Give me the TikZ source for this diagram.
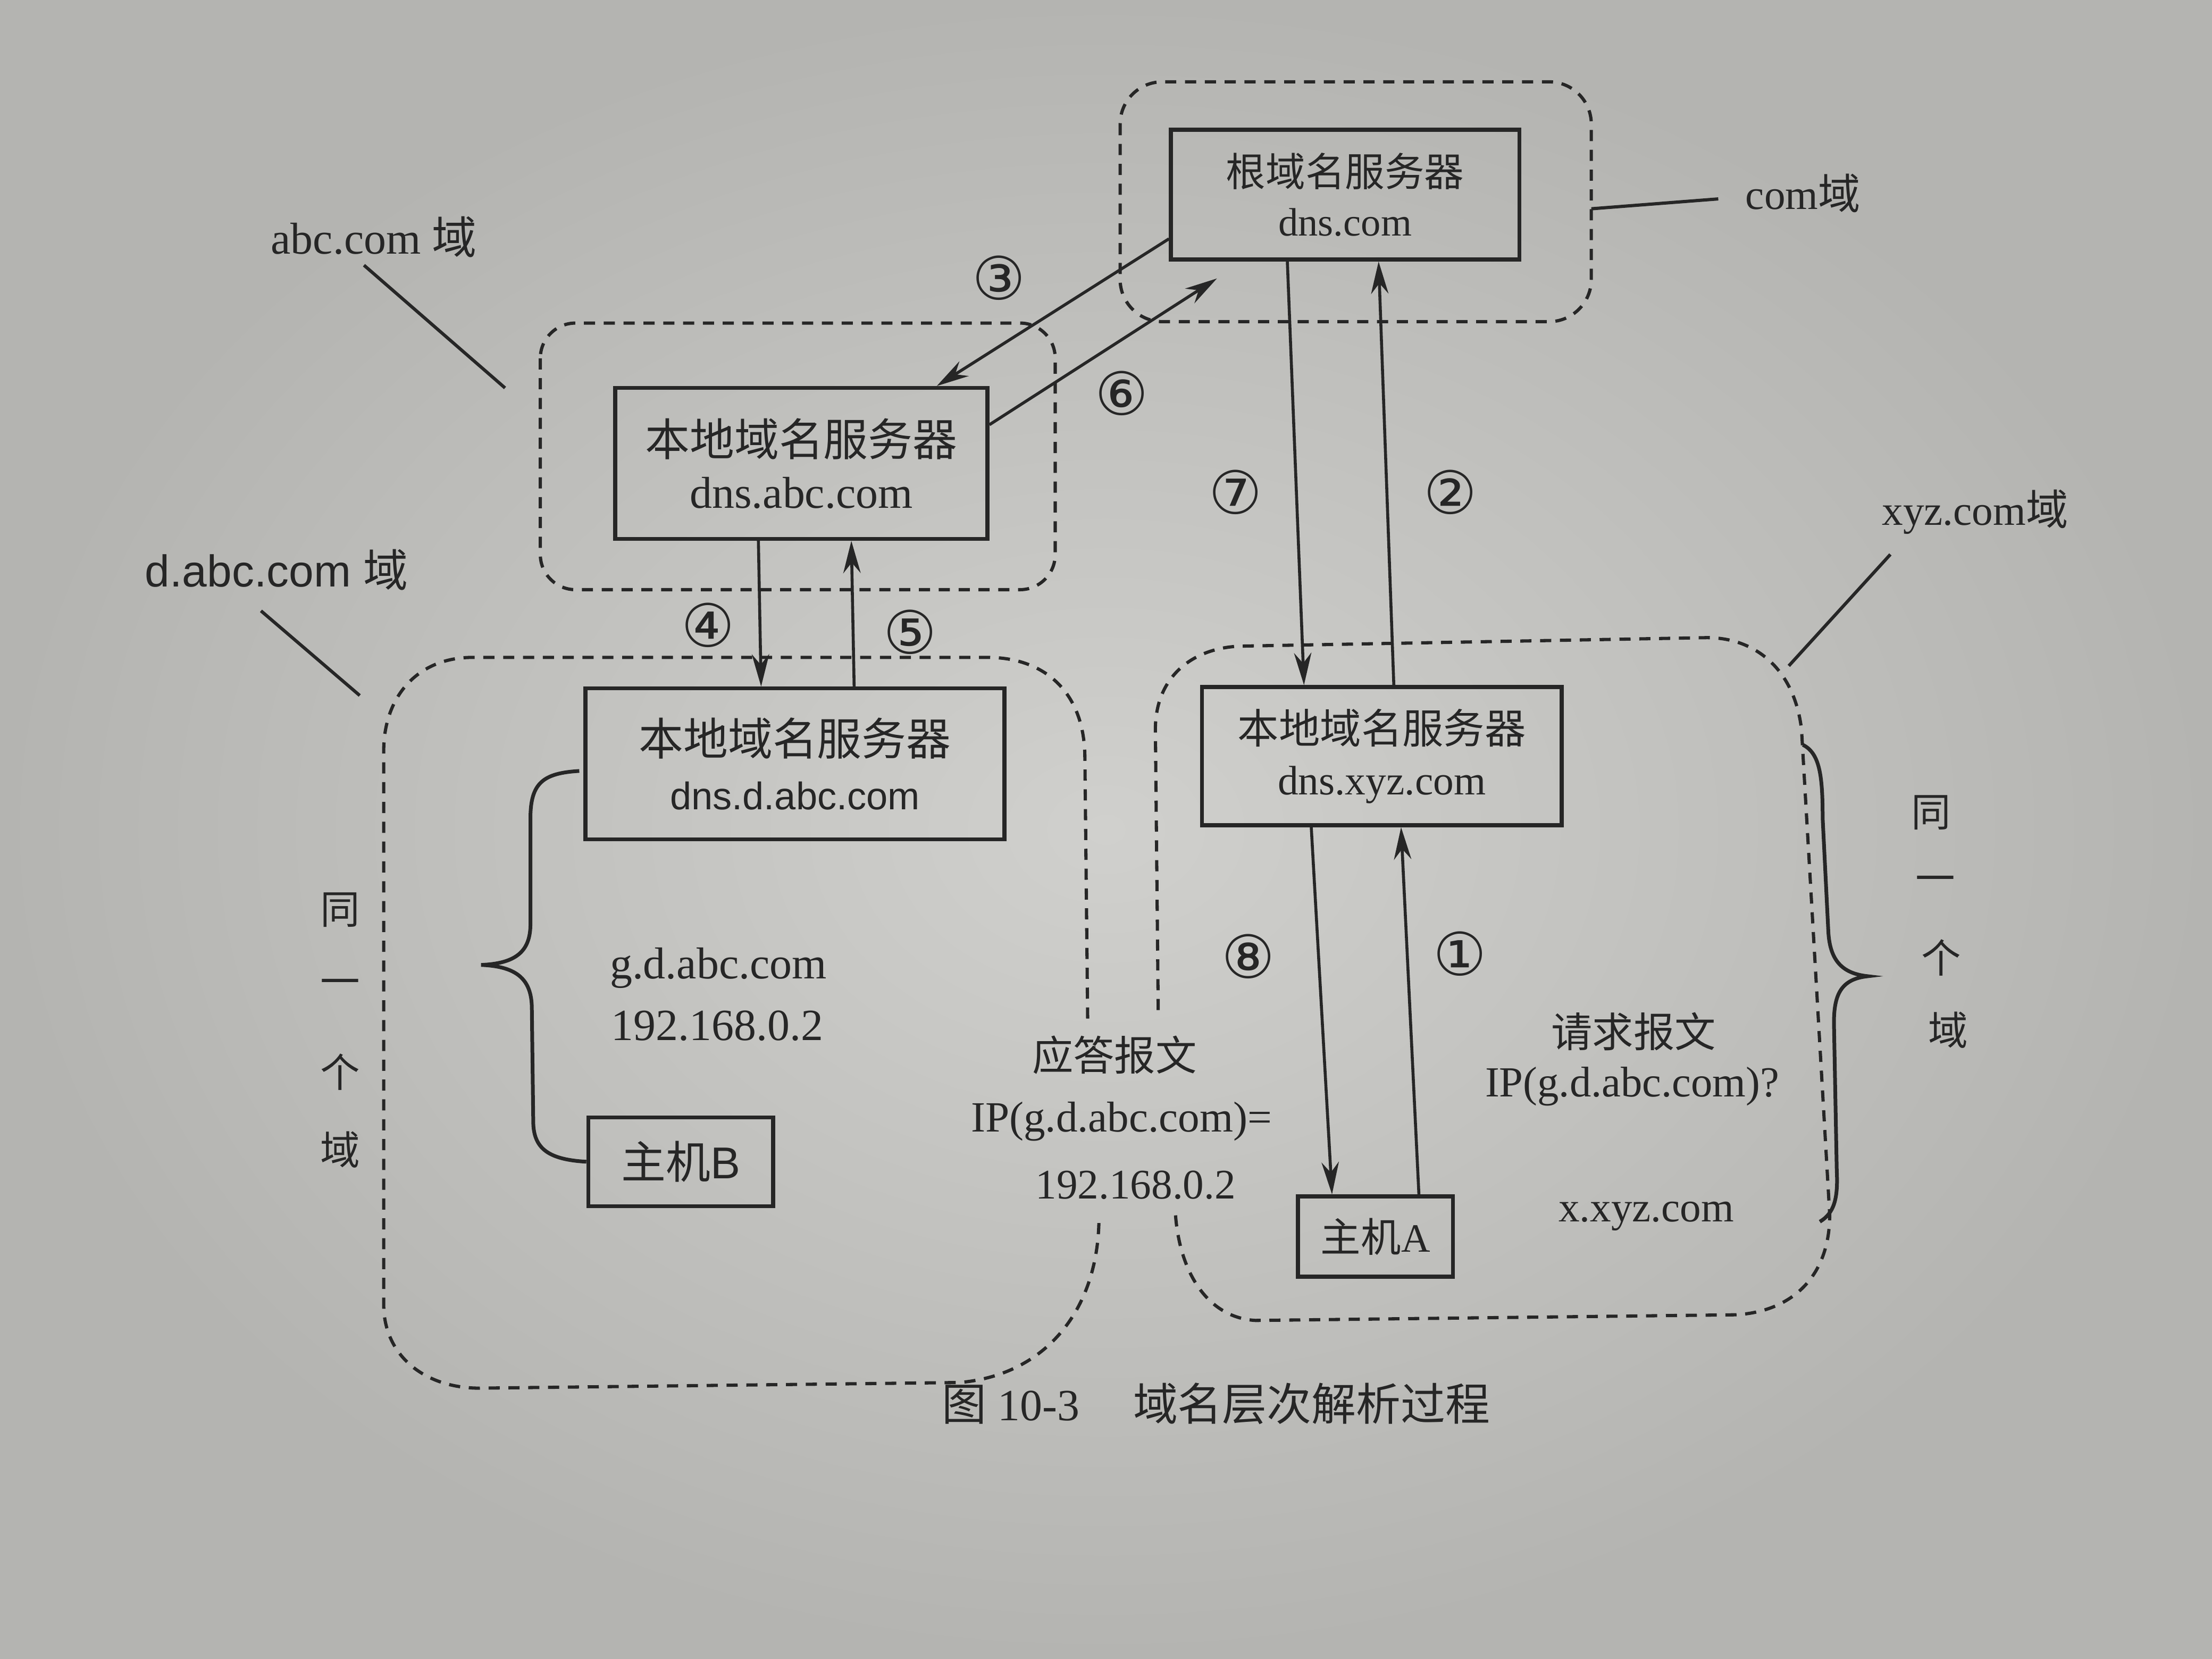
\documentclass[tikz,border=0pt]{standalone}
\usepackage{fontspec}
\setmainfont{Liberation Serif}
\setsansfont{Liberation Sans}
\newfontfamily\cjk{Noto Sans CJK SC}
\newfontfamily\circfont{DejaVu Sans}
\usetikzlibrary{arrows.meta,calc}
\definecolor{ink}{RGB}{38,38,38}
\definecolor{paperin}{RGB}{208,208,205}
\definecolor{paperout}{RGB}{180,180,177}
\tikzset{
  region/.style={draw=ink, line width=1.3pt, dash pattern=on 4.5pt off 3.5pt},
  srv/.style={draw=ink, line width=1.6pt, inner sep=0pt, align=center, text=ink},
  link/.style={draw=ink, line width=1.2pt, -{Stealth[length=13pt,width=7pt]}},
  lead/.style={draw=ink, line width=1.3pt},
  bracepath/.style={draw=ink, line width=1.5pt},
  num/.style={text=ink, font=\circfont\fontsize{24}{24}\selectfont, inner sep=0pt},
  lbl/.style={text=ink, inner sep=0pt, align=center},
  vch/.style={text=ink, inner sep=0pt, font=\cjk\fontsize{16}{16}\selectfont},
}
\begin{document}
\begin{tikzpicture}[x=0.02cm, y=-0.02cm]
\useasboundingbox (0,0) rectangle (1568,1176);
\shade[inner color=paperin, outer color=paperout] (0,0) rectangle (1568,1176);

% dashed domain regions
\draw[region, rounded corners=0.6cm] (794,58) rectangle (1128,228);
\draw[region, rounded corners=0.5cm] (383,229) rectangle (748,418);
\draw[region] (771,722) -- (769,535) .. controls (768,490) and (740,466) .. (700,466)
  -- (335,466) .. controls (295,466) and (272,495) .. (272,532)
  -- (272,925) .. controls (272,960) and (300,984) .. (340,984)
  -- (680,980) .. controls (740,975) and (778,930) .. (779,865);
\draw[region] (821,716) -- (819,517) .. controls (819,480) and (845,459) .. (880,458)
  -- (1210,452) .. controls (1245,452) and (1272,475) .. (1277,517)
  -- (1297,861) .. controls (1297,905) and (1270,930) .. (1230,932)
  -- (890,936) .. controls (855,934) and (835,900) .. (833,857);

% server boxes
\node[srv, minimum width=4.94cm, minimum height=1.84cm, font=\fontsize{16}{20}\selectfont]
  (root) at (953.5,138) {{\cjk 根域名服务器}\\dns.com};
\node[srv, minimum width=5.28cm, minimum height=2.14cm, font=\fontsize{18}{21}\selectfont]
  (abc) at (568,328.5) {{\cjk 本地域名服务器}\\dns.abc.com};
\node[srv, minimum width=5.94cm, minimum height=2.14cm, font=\fontsize{18}{22}\selectfont]
  (dabc) at (563.5,541.5) {{\cjk 本地域名服务器}\\{\sffamily\fontsize{15.5}{22}\selectfont dns.d.abc.com}};
\node[srv, minimum width=5.10cm, minimum height=1.96cm, font=\fontsize{16.6}{20.5}\selectfont]
  (xyz) at (979.5,536) {{\cjk 本地域名服务器}\\dns.xyz.com};
\node[srv, minimum width=2.2cm, minimum height=1.14cm, font=\fontsize{16.2}{18}\selectfont]
  (hostA) at (975,876.5) {{\cjk 主机}A};
\node[srv, minimum width=2.62cm, minimum height=1.26cm, font=\fontsize{18}{20}\selectfont]
  (hostB) at (482.5,823.5) {{\cjk 主机}{\sffamily B}};

% arrows
\draw[link] ($(root.north west)!0.83!(root.south west)$) -- ($(abc.north west)!0.86!(abc.north east)$);
\draw[link] ($(abc.north east)!0.25!(abc.south east)$) -- ($(root.south west)+(34,12)$);
\draw[link] ($(root.south west)!0.336!(root.south east)$) -- ($(xyz.north west)!0.286!(xyz.north east)$);
\draw[link] ($(xyz.north west)!0.533!(xyz.north east)$) -- ($(root.south west)!0.595!(root.south east)$);
\draw[link] ($(abc.south west)!0.386!(abc.south east)$) -- ($(dabc.north west)!0.42!(dabc.north east)$);
\draw[link] ($(dabc.north west)!0.64!(dabc.north east)$) -- ($(abc.south west)!0.633!(abc.south east)$);
\draw[link] ($(xyz.south west)!0.306!(xyz.south east)$) -- ($(hostA.north west)!0.227!(hostA.north east)$);
\draw[link] ($(hostA.north west)!0.773!(hostA.north east)$) -- ($(xyz.south west)!0.553!(xyz.south east)$);

% step numbers
\node[num] (n3) at (708,197) {③};
\node[num] (n6) at (795,279) {⑥};
\node[num] (n7) at (876,349) {⑦};
\node[num] (n2) at (1028,349) {②};
\node[num] (n4) at (502,443) {④};
\node[num] (n5) at (645,448) {⑤};
\node[num] (n8) at (885,678) {⑧};
\node[num] (n1) at (1035,676) {①};

% domain labels and leader lines
\node[lbl, font=\fontsize{18}{18}\selectfont] (labc) at (265,168) {abc.com {\cjk 域}};
\node[lbl, font=\sffamily\fontsize{18}{18}\selectfont] (ldabc) at (196,404) {d.abc.com {\cjk 域}};
\node[lbl, font=\fontsize{17}{17}\selectfont] (lcom) at (1278,137) {com{\cjk 域}};
\node[lbl, font=\fontsize{17}{17}\selectfont] (lxyz) at (1400,363) {xyz.com{\cjk 域}};
\coordinate (abcA) at (258,188); \coordinate (abcB) at (358,275);
\coordinate (dabcA) at (185,433); \coordinate (dabcB) at (255,493);
\coordinate (comA) at (1128,148); \coordinate (comB) at (1218,141);
\coordinate (xyzA) at (1340,393); \coordinate (xyzB) at (1268,472);
\draw[lead] (abcA) -- (abcB);
\draw[lead] (dabcA) -- (dabcB);
\draw[lead] (comA) -- (comB);
\draw[lead] (xyzA) -- (xyzB);

% braces
\draw[bracepath] ($(dabc.west)+(-3,5)$) .. controls (385,548) and (376,555) .. (376,580)
  -- (376,655) .. controls (376,675) and (365,683) .. (341,684)
  .. controls (365,685) and (377,693) .. (377,715)
  -- (378,795) .. controls (378,815) and (390,822) .. (hostB.west);
\draw[bracepath] (1278,528) .. controls (1290,534) and (1292,550) .. (1292,580)
  -- (1296,660) .. controls (1297,680) and (1305,690) .. (1324,692)
  .. controls (1305,694) and (1300,705) .. (1300,725)
  -- (1302,830) .. controls (1303,850) and (1300,860) .. (1290,866);

% vertical labels
\node[vch] (ls1) at (241,645) {同};
\node[vch] (ls2) at (241,700) {一};
\node[vch] (ls3) at (241,760) {个};
\node[vch] (ls4) at (241,815) {域};
\node[vch] (rs1) at (1369,576) {同};
\node[vch] (rs2) at (1372,627) {一};
\node[vch] (rs3) at (1376,679) {个};
\node[vch] (rs4) at (1381,730) {域};

% texts
\node[lbl, anchor=west, font=\fontsize{18}{18}\selectfont] (gname) at (432,686) {g.d.abc.com};
\node[lbl, anchor=west, font=\fontsize{18}{18}\selectfont] (gip) at (433,727) {192.168.0.2};
\node[lbl, font=\cjk\fontsize{16.6}{17}\selectfont] (resp1) at (790,748) {应答报文};
\node[lbl, font=\fontsize{17.4}{18}\selectfont] (resp2) at (795,795) {IP(g.d.abc.com)=};
\node[lbl, font=\fontsize{17}{18}\selectfont] (resp3) at (805,840) {192.168.0.2};
\node[lbl, font=\cjk\fontsize{16.6}{17}\selectfont] (req1) at (1158,731) {请求报文};
\node[lbl, font=\fontsize{17.3}{18}\selectfont] (req2) at (1157,770) {IP(g.d.abc.com)?};
\node[lbl, font=\fontsize{17}{18}\selectfont] (xname) at (1167,862) {x.xyz.com};

% caption
\node[lbl, font=\fontsize{18}{20}\selectfont] (cap) at (862,995) {{\cjk 图} 10-3\hspace{1.2em}{\cjk 域名层次解析过程}};
\end{tikzpicture}
\end{document}
